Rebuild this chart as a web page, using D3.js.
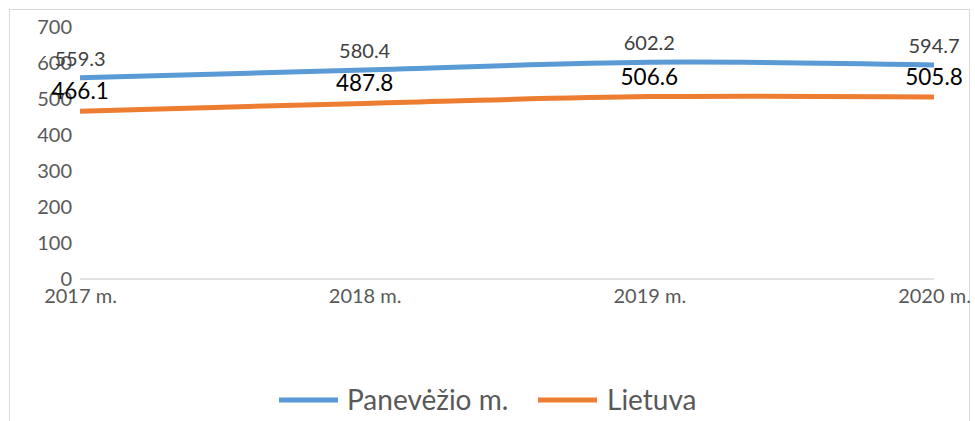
<!DOCTYPE html>
<html><head><meta charset="utf-8">
<script src="https://cdn.jsdelivr.net/npm/d3@7"></script>
<style>
html,body{margin:0;padding:0;background:#fff;}
svg{display:block;font-family:Lato, "Open Sans", sans-serif;}
</style></head>
<body><svg id="c" width="975" height="421"></svg>
<script>
const categories = ["2017 m.", "2018 m.", "2019 m.", "2020 m."];
const panevezys = [559.3, 580.4, 602.2, 594.7];
const lietuva = [466.1, 487.8, 506.6, 505.8];
const yTicks = [0, 100, 200, 300, 400, 500, 600, 700];
const seriesNames = ["Panevėžio m.", "Lietuva"];
const seriesColors = ["#5B9BD5", "#ED7D31"];

const svg = d3.select("#c");
// frame
svg.append("rect").attr("x", 9.5).attr("y", 9.5).attr("width", 960).attr("height", 420)
  .attr("fill", "none").attr("stroke", "#d9d9d9").attr("stroke-width", 1);

const x = d3.scalePoint().domain(categories).range([80, 934]);
const y = d3.scaleLinear().domain([0, 700]).range([279, 27]);

// y axis labels
const yAxis = d3.axisLeft(y).tickValues(yTicks).tickSize(0).tickPadding(0).tickFormat(d3.format("d"));
const yg = svg.append("g").attr("transform", "translate(72,0)").call(yAxis);
yg.select(".domain").remove();
yg.selectAll("text").attr("font-size", 20).attr("fill", "#595959").attr("font-family", "Lato");

// x axis
const xAxis = d3.axisBottom(x).tickSize(0).tickPadding(10);
const xg = svg.append("g").attr("transform", `translate(0,${y(0)})`).call(xAxis);
xg.select(".domain").attr("stroke", "#d9d9d9").attr("stroke-width", 1.5).attr("d", `M${x(categories[0])},0H${x(categories[3])}`);
xg.selectAll("text").attr("font-size", 20).attr("fill", "#595959").attr("font-family", "Lato");

const series = [panevezys, lietuva];
const line = d3.line().x((d, i) => x(categories[i])).y(d => y(d)).curve(d3.curveCatmullRom.alpha(0.5));
series.forEach((s, k) => {
  svg.append("path").datum(s).attr("d", line).attr("fill", "none")
    .attr("stroke", seriesColors[k]).attr("stroke-width", 5).attr("stroke-linecap", "butt");
});

// data labels
svg.append("g").selectAll("text").data(panevezys).join("text")
  .attr("x", (d, i) => x(categories[i])).attr("y", d => y(d) - 12)
  .attr("text-anchor", "middle").attr("font-size", 20).attr("fill", "#404040")
  .text(d => d.toFixed(1));
svg.append("g").selectAll("text").data(lietuva).join("text")
  .attr("x", (d, i) => x(categories[i])).attr("y", d => y(d) - 12)
  .attr("text-anchor", "middle").attr("font-size", 22.5).attr("fill", "#000")
  .text(d => d.toFixed(1));

// legend
const legend = [{x: 279, tx: 347}, {x: 538, tx: 607}];
legend.forEach((l, k) => {
  svg.append("line").attr("x1", l.x).attr("x2", l.x + 59).attr("y1", 400).attr("y2", 400)
    .attr("stroke", seriesColors[k]).attr("stroke-width", 5);
  svg.append("text").attr("x", l.tx).attr("y", 410).attr("font-size", 28).attr("fill", "#595959")
    .text(seriesNames[k]);
});
</script></body></html>
